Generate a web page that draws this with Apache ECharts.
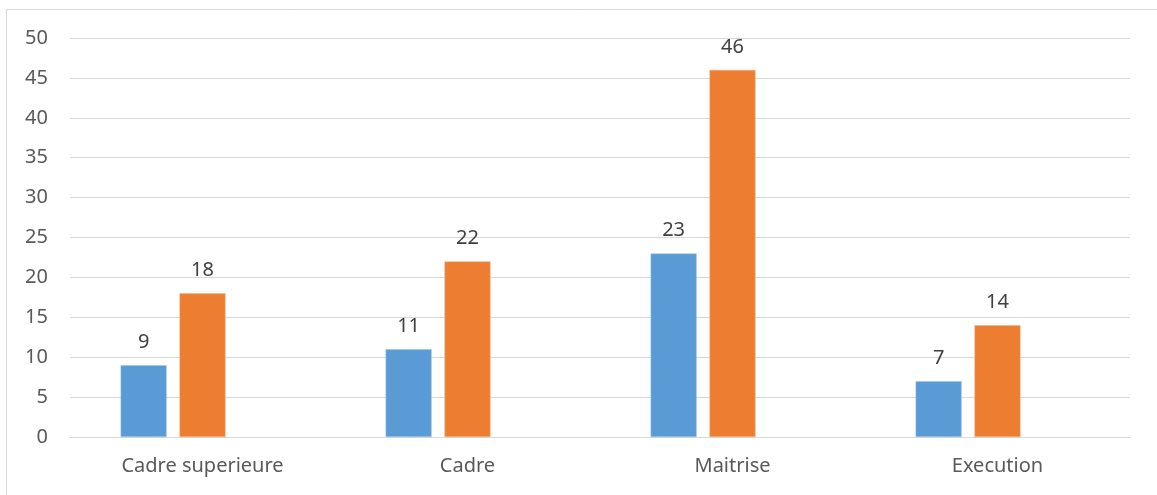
<!DOCTYPE html>
<html>
<head>
<meta charset="utf-8">
<script src="https://cdn.jsdelivr.net/npm/echarts@6/dist/echarts.min.js"></script>
<style>
  html, body { margin: 0; padding: 0; background: #fff; }
  #chart { width: 1157px; height: 495px; }
</style>
</head>
<body>
<div id="chart"></div>
<script>
// Staff counts by job level
const categories = ['Cadre superieure', 'Cadre', 'Maitrise', 'Execution'];
const series1 = [9, 11, 23, 7];
const series2 = [18, 22, 46, 14];
const series3 = [null, null, null, null];
const yTicks = { min: 0, max: 50, interval: 5 };

const chart = echarts.init(document.getElementById('chart'), null, { renderer: 'canvas' });

const FONT = 'Noto Sans';

const labelStyle = {
  show: true,
  position: 'top',
  distance: 13,
  color: '#404040',
  fontSize: 20,
  fontFamily: FONT
};

chart.setOption({
  animation: false,
  backgroundColor: '#fff',
  graphic: [{
    type: 'rect',
    shape: { x: 6.5, y: 9.5, width: 1200, height: 600 },
    style: { fill: 'none', stroke: '#d9d9d9', lineWidth: 1 },
    silent: true,
    z: -1
  }],
  grid: { left: 70, right: 27, top: 38, bottom: 58, containLabel: false },
  xAxis: {
    type: 'category',
    data: categories,
    axisLine: { show: true, lineStyle: { color: '#d9d9d9', width: 1 } },
    axisTick: { show: false },
    axisLabel: { color: '#595959', fontSize: 20, fontFamily: FONT, margin: 19 }
  },
  yAxis: {
    type: 'value',
    min: yTicks.min,
    max: yTicks.max,
    interval: yTicks.interval,
    axisLine: { show: false },
    axisTick: { show: false },
    axisLabel: { color: '#595959', fontSize: 20, fontFamily: FONT, margin: 22 },
    splitLine: { lineStyle: { color: '#d9d9d9', width: 1 } }
  },
  series: [
    {
      name: 'Série 1', type: 'bar', data: series1,
      barWidth: 46, barGap: '28%',
      itemStyle: { color: '#5b9bd5', borderColor: '#9cc3e6', borderWidth: 0.5 },
      label: labelStyle
    },
    {
      name: 'Série 2', type: 'bar', data: series2,
      barWidth: 46, barGap: '28%',
      itemStyle: { color: '#ed7d31', borderColor: '#f4b183', borderWidth: 0.5 },
      label: labelStyle
    },
    {
      name: 'Série 3', type: 'bar', data: series3,
      barWidth: 46, barGap: '28%',
      itemStyle: { color: '#a5a5a5' }
    }
  ]
});
</script>
</body>
</html>
